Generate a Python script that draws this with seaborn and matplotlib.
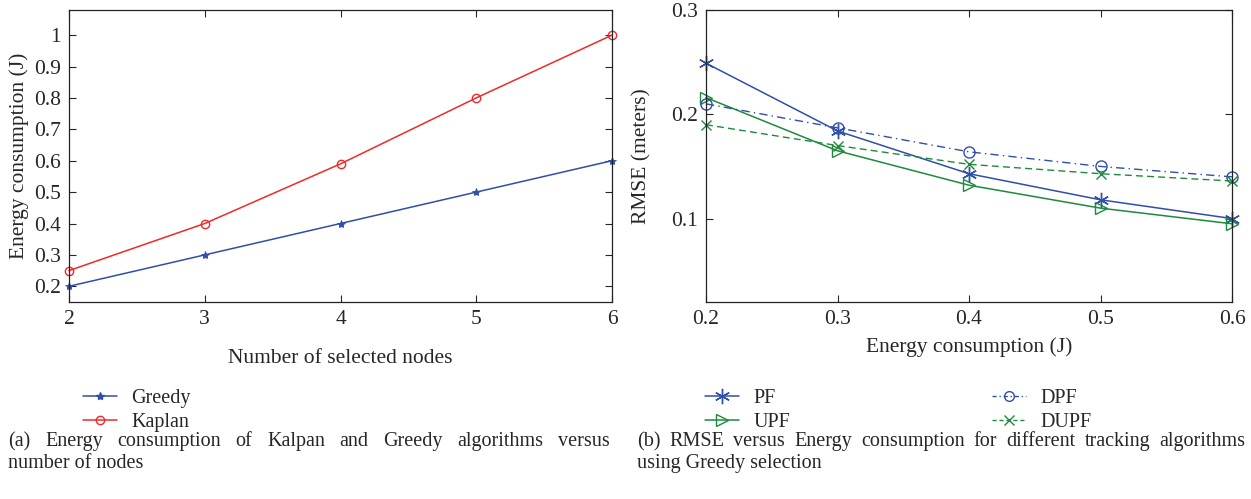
import numpy as np
import pandas as pd
import matplotlib
matplotlib.use("Agg")
import matplotlib.pyplot as plt
import seaborn as sns
from matplotlib.lines import Line2D

# ---- data ----
nodes = [2, 3, 4, 5, 6]
greedy = [0.2, 0.3, 0.4, 0.5, 0.6]
kaplan = [0.25, 0.4, 0.59, 0.8, 1.0]

energy = [0.2, 0.3, 0.4, 0.5, 0.6]
pf = [0.249, 0.184, 0.143, 0.118, 0.100]
upf = [0.216, 0.165, 0.132, 0.110, 0.095]
dpf = [0.210, 0.187, 0.164, 0.150, 0.140]
dupf = [0.190, 0.170, 0.152, 0.143, 0.136]

left_ticks = [0.2, 0.3, 0.4, 0.5, 0.6, 0.7, 0.8, 0.9, 1.0]
left_ticklabels = ["0.2", "0.3", "0.4", "0.5", "0.6", "0.7", "0.8", "0.9", "1"]
right_yticks = [0.1, 0.2, 0.3]
right_xticks = [0.2, 0.3, 0.4, 0.5, 0.6]

caption_a1 = "(a)  Energy consumption of Kalpan and Greedy algorithms versus"
caption_a2 = "number of nodes"
caption_b1 = "(b) RMSE versus Energy consumption for different tracking algorithms"
caption_b2 = "using Greedy selection"

BLUE = "#2f4fa8"
RED = "#ee2a2a"
GREEN = "#1e8a3c"

sns.set_theme(style="ticks")
plt.rcParams["font.family"] = ["Liberation Serif", "DejaVu Serif"]

W, H = 1251, 499
fig = plt.figure(figsize=(W / 100, H / 100), dpi=100)
ax1 = fig.add_axes([69/W, 1-302/H, (612-69)/W, 292/H])
ax2 = fig.add_axes([706/W, 1-302/H, (1232-706)/W, 292/H])

FS = 15.5
TFS = 15.5
LFS = 14.5

# ---- left ----
dfl = pd.DataFrame({"x": nodes, "Greedy": greedy, "Kaplan": kaplan})
sns.lineplot(data=dfl, x="x", y="Greedy", ax=ax1, color=BLUE, marker="*",
             markersize=6, markeredgewidth=0.6, markeredgecolor=BLUE, lw=1.1, clip_on=False)
sns.lineplot(data=dfl, x="x", y="Kaplan", ax=ax1, color=RED, marker="o",
             markersize=6, markerfacecolor="none", markeredgecolor=RED, markeredgewidth=1.0,
             lw=1.1, clip_on=False)
ax1.set_xlim(2, 6)
ax1.set_ylim(0.15, 1.08)
ax1.set_xticks(nodes)
ax1.set_yticks(left_ticks)
ax1.set_yticklabels(left_ticklabels)
ax1.set_xlabel("Number of selected nodes", fontsize=FS, labelpad=14)
ax1.set_ylabel("Energy consumption (J)", fontsize=FS, labelpad=3)

# ---- right ----
dfr = pd.DataFrame({"x": energy, "PF": pf, "UPF": upf, "DPF": dpf, "DUPF": dupf})
sns.lineplot(data=dfr, x="x", y="PF", ax=ax2, color=BLUE, marker=(6, 2, 0),
             markersize=11, markeredgewidth=1.0, markeredgecolor=BLUE, lw=1.1, clip_on=False)
sns.lineplot(data=dfr, x="x", y="UPF", ax=ax2, color=GREEN, marker=">",
             markersize=8, markerfacecolor="none", markeredgecolor=GREEN, markeredgewidth=1.0,
             lw=1.1, clip_on=False)
sns.lineplot(data=dfr, x="x", y="DPF", ax=ax2, color=BLUE, marker="o", linestyle=(0, (6, 3, 1, 3)),
             markersize=8, markerfacecolor="none", markeredgecolor=BLUE, markeredgewidth=1.0,
             lw=1.0, clip_on=False)
sns.lineplot(data=dfr, x="x", y="DUPF", ax=ax2, color=GREEN, marker="x", linestyle=(0, (5, 3)),
             markersize=7, markeredgecolor=GREEN, markeredgewidth=1.0, lw=1.0, clip_on=False)
ax2.set_xlim(0.2, 0.6)
ax2.set_ylim(0.02, 0.3)
ax2.set_xticks(right_xticks)
ax2.set_xticklabels([f"{v:.1f}" for v in right_xticks])
ax2.set_yticks(right_yticks)
ax2.set_yticklabels([f"{v:.1f}" for v in right_yticks])
ax2.set_xlabel("Energy consumption (J)", fontsize=FS, labelpad=6)
ax2.set_ylabel("RMSE (meters)", fontsize=FS, labelpad=14)

for ax in (ax1, ax2):
    ax.tick_params(direction="in", top=True, right=True, labelsize=TFS, length=5,
                   width=0.8, pad=6)
    for s in ax.spines.values():
        s.set_visible(True)
        s.set_linewidth(0.9)
        s.set_color("#222222")

# ---- legends ----
leg_kw = dict(loc="upper left", frameon=False, fontsize=LFS, handlelength=1.7,
              handletextpad=0.7, labelspacing=0.26, borderpad=0, borderaxespad=0)
h_left = [
    Line2D([], [], color=BLUE, marker="*", markersize=6, lw=1.1),
    Line2D([], [], color=RED, marker="o", markersize=6, markerfacecolor="none", lw=1.1),
]
fig.legend(h_left, ["Greedy", "Kaplan"], bbox_to_anchor=(83/W, 1-389/H), **leg_kw)

h_r1 = [
    Line2D([], [], color=BLUE, marker=(6, 2, 0), markersize=11, lw=1.1),
    Line2D([], [], color=GREEN, marker=">", markersize=8, markerfacecolor="none", lw=1.1),
]
h_r2 = [
    Line2D([], [], color=BLUE, marker="o", markersize=7, markerfacecolor="none", lw=1.0,
           linestyle=(0, (3, 2, 1, 2))),
    Line2D([], [], color=GREEN, marker="x", markersize=7, lw=1.0, linestyle=(0, (3, 2))),
]
fig.legend(h_r1, ["PF", "UPF"], bbox_to_anchor=(705/W, 1-389/H), **leg_kw)
fig.legend(h_r2, ["DPF", "DUPF"], bbox_to_anchor=(992/W, 1-389/H), **leg_kw)

# ---- captions ----
CFS = 14.5
renderer = fig.canvas.get_renderer()


def justified(text, x0, x1, y):
    words = text.split()
    objs = [fig.text(0, 1 - y / H, w, fontsize=CFS, va="baseline", ha="left") for w in words]
    widths = [o.get_window_extent(renderer).width for o in objs]
    gap = ((x1 - x0) - sum(widths)) / (len(words) - 1)
    x = x0
    for o, w in zip(objs, widths):
        o.set_x(x / W)
        x += w + gap


justified(caption_a1, 8, 610, 446)
fig.text(8/W, 1-468/H, caption_a2, fontsize=CFS, va="baseline", ha="left")
justified(caption_b1, 637, 1245, 446)
fig.text(637/W, 1-468/H, caption_b2, fontsize=CFS, va="baseline", ha="left")

fig.savefig("out.png", dpi=100)
